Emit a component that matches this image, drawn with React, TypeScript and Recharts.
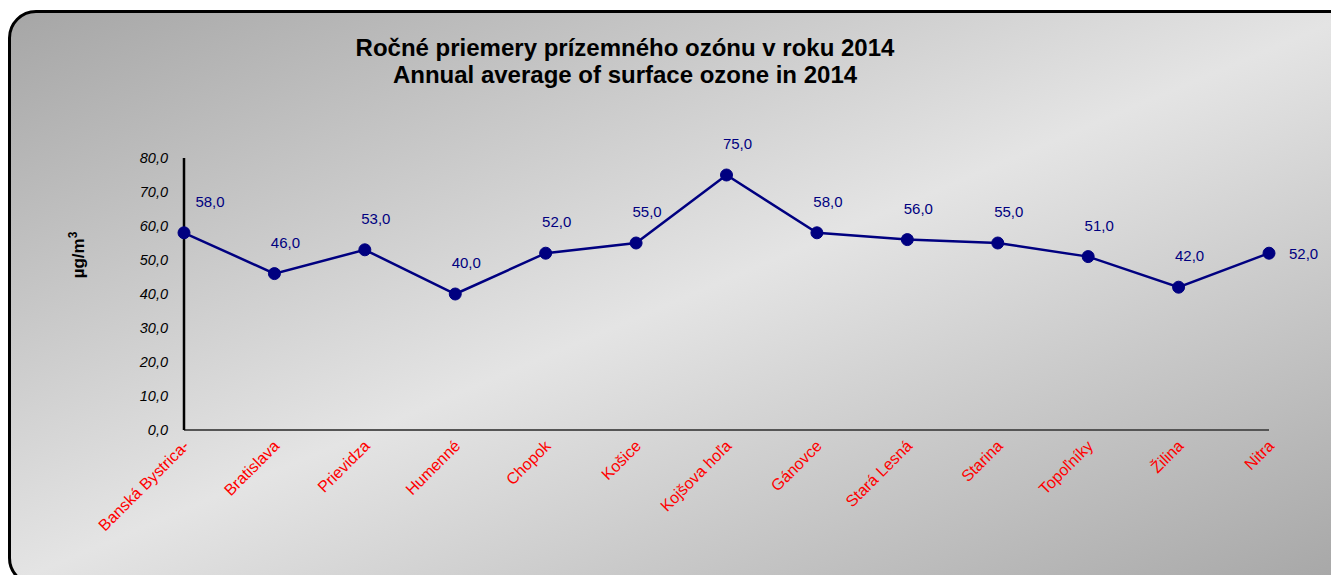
import { LineChart, Line, XAxis, YAxis, Label } from "recharts";

const stations = [
  "Banská Bystrica-",
  "Bratislava",
  "Prievidza",
  "Humenné",
  "Chopok",
  "Košice",
  "Kojšova hoľa",
  "Gánovce",
  "Stará Lesná",
  "Starina",
  "Topoľníky",
  "Žilina",
  "Nitra",
];

const ozone = [58, 46, 53, 40, 52, 55, 75, 58, 56, 55, 51, 42, 52];

const yTicks = [0, 10, 20, 30, 40, 50, 60, 70, 80];

const titleLines = [
  "Ročné priemery prízemného ozónu v roku 2014",
  "Annual average of surface ozone in 2014",
];

const data = stations.map((name, i) => ({ name, ozone: ozone[i] }));

const FONT = '"Liberation Sans", Arial, sans-serif';
const NAVY = "#000080";

const fmt = (v: number) => v.toFixed(1).replace(".", ",");

const StationTick = (props: any) => {
  const { x, y, payload } = props;
  const ax = x + 6;
  const ay = y + 9;
  return (
    <text
      x={ax}
      y={ay}
      transform={`rotate(-45 ${ax} ${ay})`}
      textAnchor="end"
      fill="#ff0000"
      fontSize={16}
      fontFamily={FONT}
    >
      {payload.value}
    </text>
  );
};

// Excel-ish label placement: mostly above & a bit right, first and last nudged away
const ValueLabel = (props: any) => {
  const { x, y, value, index } = props;
  let lx = x + 11;
  let ly = y - 26;
  let anchor: "middle" | "start" = "middle";
  if (index === 0) lx = x + 26;
  if (index === ozone.length - 1) {
    lx = x + 20;
    ly = y + 6;
    anchor = "start";
  }
  return (
    <text x={lx} y={ly} textAnchor={anchor} fill={NAVY} fontSize={15} fontFamily={FONT}>
      {fmt(value)}
    </text>
  );
};

export default function App() {
  return (
    <div
      style={{
        position: "absolute",
        left: 0,
        top: 0,
        width: 1331,
        height: 575,
        overflow: "hidden",
        background: "#fff",
      }}
    >
      <div
        style={{
          position: "absolute",
          left: 8,
          top: 10,
          width: 1350,
          height: 576,
          boxSizing: "border-box",
          border: "3px solid #000",
          borderRadius: 28,
          background: "linear-gradient(to bottom right, #a6a6a6 0%, #e4e4e4 50%, #a6a6a6 100%)",
        }}
      />
      <div
        style={{
          position: "absolute",
          left: 0,
          top: 34,
          width: 1250,
          textAlign: "center",
          fontFamily: FONT,
          fontWeight: "bold",
          fontSize: 24,
          lineHeight: "27px",
          color: "#000",
        }}
      >
        {titleLines.map((t) => (
          <div key={t}>{t}</div>
        ))}
      </div>
      <div style={{ position: "absolute", left: 0, top: 0 }}>
        <LineChart
          width={1331}
          height={575}
          data={data}
          margin={{ top: 158, right: 62, bottom: 45, left: 124 }}
        >
          <XAxis
            dataKey="name"
            height={100}
            interval={0}
            tickLine={false}
            axisLine={{ stroke: "#555555", strokeWidth: 2 }}
            tick={<StationTick />}
          />
          <YAxis
            width={60}
            domain={[0, 80]}
            ticks={yTicks}
            tickFormatter={fmt}
            tickLine={false}
            tickMargin={10}
            axisLine={{ stroke: "#000", strokeWidth: 2.5 }}
            tick={{ fill: "#000", fontSize: 14.5, fontStyle: "italic", fontFamily: FONT }}
          >
            <Label
              content={() => (
                <text
                  x={84}
                  y={255}
                  transform="rotate(-90 84 255)"
                  textAnchor="middle"
                  fontSize={17}
                  fontWeight="bold"
                  fontFamily={FONT}
                  fill="#000"
                >
                  µg/m
                  <tspan fontSize={12} dy={-7}>
                    3
                  </tspan>
                </text>
              )}
            />
          </YAxis>
          <Line
            dataKey="ozone"
            stroke={NAVY}
            strokeWidth={2.5}
            dot={{ r: 6, fill: NAVY, stroke: NAVY, strokeWidth: 1 }}
            activeDot={false}
            label={<ValueLabel />}
            isAnimationActive={false}
          />
        </LineChart>
      </div>
    </div>
  );
}
